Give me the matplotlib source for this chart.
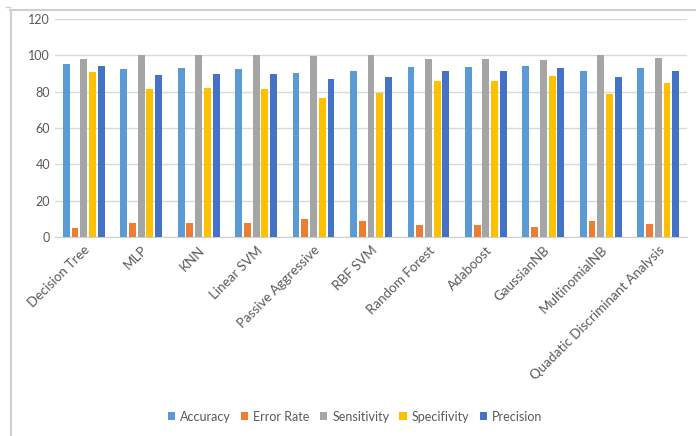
import numpy as np
import matplotlib
matplotlib.use("Agg")
import matplotlib.pyplot as plt
from matplotlib.lines import Line2D

# classifier scores (%)
models = ["Decision Tree", "MLP", "KNN", "Linear SVM", "Passive Aggressive",
          "RBF SVM", "Random Forest", "Adaboost", "GaussianNB", "MultinomialNB",
          "Quadatic Discriminant Analysis"]
accuracy = [95.0, 92.5, 92.8, 92.5, 90.3, 91.5, 93.4, 93.4, 94.3, 91.5, 93.0]
error_rate = [5.1, 7.9, 7.5, 7.9, 9.9, 8.6, 6.6, 6.6, 5.7, 8.6, 7.0]
sensitivity = [97.8, 100, 100, 100, 99.5, 100, 98.1, 98.1, 97.6, 100, 98.3]
specificity = [90.8, 81.3, 82.0, 81.5, 76.5, 79.1, 85.9, 85.7, 88.6, 78.9, 84.8]
precision = [94.3, 89.3, 89.9, 89.5, 87.0, 88.2, 91.5, 91.5, 93.2, 88.2, 91.2]

series = [("Accuracy", accuracy, "#5B9BD5"),
          ("Error Rate", error_rate, "#ED7D31"),
          ("Sensitivity", sensitivity, "#A5A5A5"),
          ("Specifivity", specificity, "#FFC000"),
          ("Precision", precision, "#4472C4")]

plt.rcParams["font.family"] = ["Lato", "DejaVu Sans"]
text_col = "#595959"

fig = plt.figure(figsize=(6.96, 4.36), dpi=100)
ax = fig.add_axes([0.079, 0.4564, 0.908, 0.5])

x = np.arange(len(models))
width = 0.12
step = 0.152
for i, (name, vals, col) in enumerate(series):
    ax.bar(x + (i - 2) * step, vals, width, color=col, label=name, zorder=3)

ax.set_xlim(-0.5, len(models) - 0.5)
ax.set_ylim(0, 120)
ax.set_yticks(range(0, 121, 20))
ax.yaxis.grid(True, color="#d9d9d9", linewidth=1, zorder=0)
for s in ["top", "right", "left"]:
    ax.spines[s].set_visible(False)
ax.spines["bottom"].set_color("#d0d0d0")
ax.tick_params(axis="both", length=0, colors=text_col, labelsize=9)
ax.tick_params(axis="x", pad=5, labelsize=9.6)
ax.set_xticks(x)
ax.set_xticklabels(models, rotation=45, ha="right", rotation_mode="anchor")

fig.legend(loc="center", bbox_to_anchor=(0.51, 0.044), ncol=5, frameon=False,
           fontsize=9, handlelength=0.6, handleheight=0.6, handletextpad=0.4,
           columnspacing=0.8, labelcolor=text_col)

# outer frame of the chart
fig.add_artist(Line2D([10 / 696, 1], [1 - 10.5 / 436] * 2, color="#cfcfcf", lw=1.5))
fig.add_artist(Line2D([10.5 / 696] * 2, [0, 1 - 10 / 436], color="#cfcfcf", lw=1.5))
fig.add_artist(Line2D([6 / 696, 10 / 696], [1 - 7 / 436] * 2, color="#cfcfcf", lw=1))

fig.savefig("out.png", dpi=100)
